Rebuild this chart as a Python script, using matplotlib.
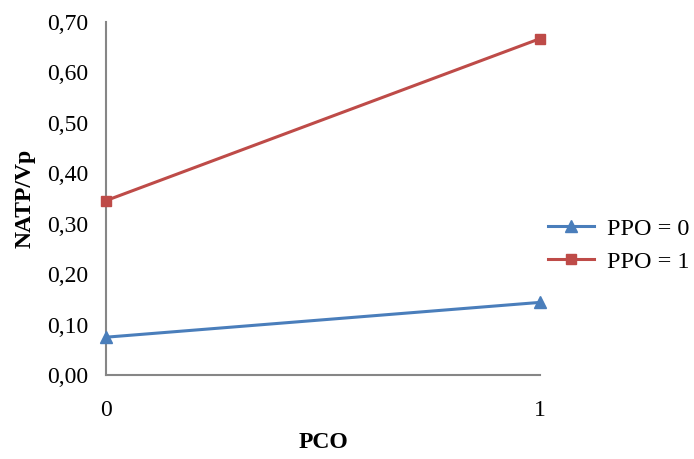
import numpy as np
import matplotlib
matplotlib.use("Agg")
import matplotlib.pyplot as plt
from matplotlib.ticker import FuncFormatter

# donnees
pco = [0, 1]
ppo0 = [0.075, 0.144]
ppo1 = [0.346, 0.667]
yticks = [0.0, 0.1, 0.2, 0.3, 0.4, 0.5, 0.6, 0.7]

plt.rcParams['font.family'] = ['Liberation Serif', 'DejaVu Serif']

fig = plt.figure(figsize=(6.94, 4.59), dpi=100)
ax = fig.add_axes([0.153, 0.183, 0.625, 0.769])

ax.plot(pco, ppo0, color="#4A7EBB", lw=2.2, marker="^", ms=9, clip_on=False,
        label="PPO = 0", zorder=3)
ax.plot(pco, ppo1, color="#BE4B48", lw=2.2, marker="s", ms=7.5, clip_on=False,
        label="PPO = 1", zorder=3)

ax.set_xlim(0, 1)
ax.set_ylim(0, 0.7)
ax.set_xticks(pco)
ax.set_xticklabels([str(v) for v in pco])
ax.set_yticks(yticks)
ax.yaxis.set_major_formatter(FuncFormatter(lambda v, p: ("%.2f" % v).replace(".", ",")))
ax.tick_params(length=0, labelsize=17, colors="black")
ax.tick_params(axis="y", pad=13)
ax.tick_params(axis="x", pad=18)

for s in ["top", "right"]:
    ax.spines[s].set_visible(False)
for s in ["left", "bottom"]:
    ax.spines[s].set_color("#868686")
    ax.spines[s].set_linewidth(1.5)

ax.set_ylabel("NATP/Vp", fontsize=17, fontweight="bold", labelpad=8)
ax.set_xlabel("PCO", fontsize=17, fontweight="bold", labelpad=8)

fig.legend(loc="center left", bbox_to_anchor=(0.79, 0.466), frameon=False,
           fontsize=17.5, handlelength=1.9, handletextpad=0.5, borderpad=0,
           borderaxespad=0, labelspacing=0.45)

fig.savefig("out.png", dpi=100)
